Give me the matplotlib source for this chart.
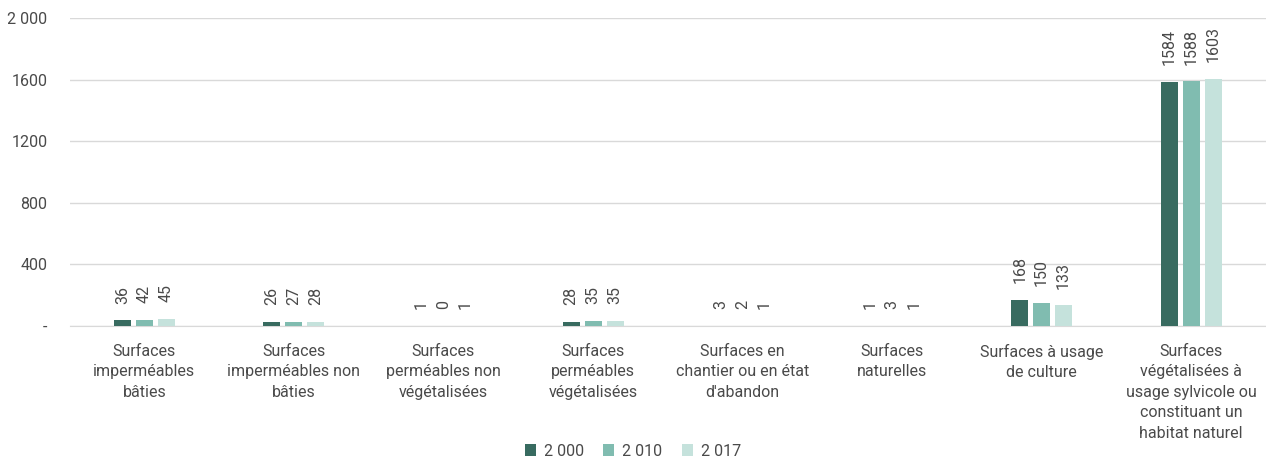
import numpy as np
import matplotlib.pyplot as plt

plt.rcParams['font.family'] = ['Roboto', 'DejaVu Sans']

categories = ["Surfaces\nimperméables\nbâties", "Surfaces\nimperméables non\nbâties",
              "Surfaces\nperméables non\nvégétalisées", "Surfaces\nperméables\nvégétalisées",
              "Surfaces en\nchantier ou en état\nd'abandon", "Surfaces\nnaturelles",
              "Surfaces à usage\nde culture",
              "Surfaces\nvégétalisées à\nusage sylvicole ou\nconstituant un\nhabitat naturel"]
series_names = ["2 000", "2 010", "2 017"]
v2000 = [36, 26, 1, 28, 3, 1, 168, 1584]
v2010 = [42, 27, 0, 35, 2, 3, 150, 1588]
v2017 = [45, 28, 1, 35, 1, 1, 133, 1603]
colors = ["#386b60", "#80bcb0", "#c5e2dc"]
yticks = [0, 400, 800, 1200, 1600, 2000]
ytick_labels = ["-", "400", "800", "1200", "1600", "2 000"]

fig = plt.figure(figsize=(12.66, 4.57), dpi=100)
ax = fig.add_axes([0.055, 0.2867, 0.945, 0.6739])

x = np.arange(len(categories))
w = 0.114
step = 0.147
txt = "#4a4a4a"
fs = 11.5
for i, (vals, name, c) in enumerate(zip([v2000, v2010, v2017], series_names, colors)):
    pos = x + (i - 1) * step
    ax.bar(pos, vals, width=w, color=c, label=name, zorder=3)
    for p, v in zip(pos, vals):
        ax.annotate(str(v), (p, v), xytext=(0, 12), textcoords='offset points',
                    rotation=90, ha='center', va='bottom', fontsize=fs, color=txt)

ax.set_xlim(-0.5, len(categories) - 0.5)
ax.set_ylim(0, 2000)
ax.set_yticks(yticks)
ax.set_yticklabels(ytick_labels, fontsize=fs, color=txt)
ax.yaxis.grid(True, color="#d9d9d9", linewidth=1, zorder=0)
ax.set_xticks(x)
ax.set_xticklabels(categories, fontsize=fs, color=txt, linespacing=1.45, va='top')
ax.tick_params(axis='x', length=0, pad=13)
ax.tick_params(axis='y', length=0, pad=16)
for s in ['top', 'right', 'left']:
    ax.spines[s].set_visible(False)
ax.spines['bottom'].set_color("#d9d9d9")

fig.legend(loc='lower center', bbox_to_anchor=(0.5, -0.035), ncol=3, frameon=False,
           fontsize=fs, handlelength=0.7, handleheight=0.7, handletextpad=0.5,
           columnspacing=1.2, labelcolor=txt)

fig.savefig("out.png", dpi=100)
